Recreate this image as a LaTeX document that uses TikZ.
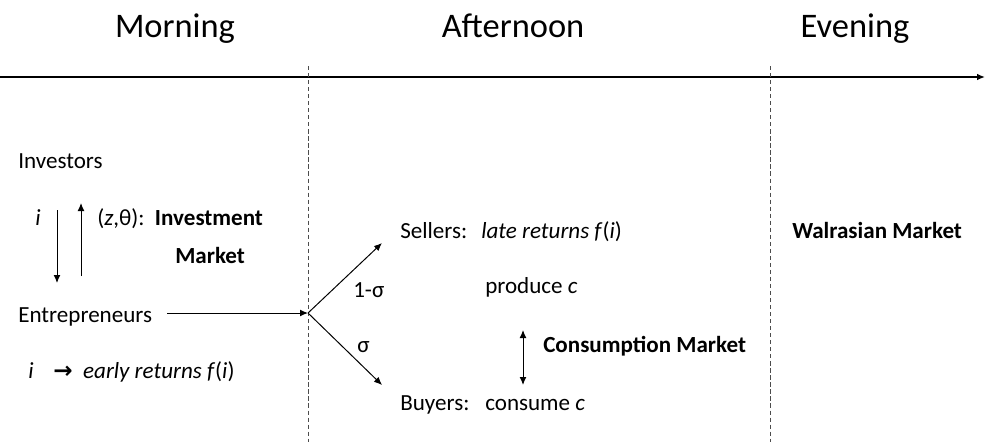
\documentclass[tikz,border=0pt]{standalone}
\usepackage{fontspec}
\setmainfont{Carlito}
\newfontfamily\arrowfont{DejaVu Sans}
\usetikzlibrary{arrows.meta}

\begin{document}
\begin{tikzpicture}[x=0.025cm,y=-0.025cm,>={Latex[length=2mm,width=1.7mm]},
	every node/.style={anchor=base west,inner sep=0pt,font=\fontsize{16.4}{20}\selectfont},
	title/.style={anchor=base,font=\fontsize{24.5}{30}\selectfont},
	phase/.style={dashed,dash pattern=on 3pt off 2pt,line width=0.6pt,black!70},
	flow/.style={line width=0.7pt,->}]
		\useasboundingbox (0,0) rectangle (985,442);
		\node[title] (morning) at (175,37) {Morning};
		\node[title] (afternoon) at (513,37) {Afternoon};
		\node[title] (evening) at (855,37) {Evening};
		\coordinate (tstart) at (0,77);
		\coordinate (tend) at (985,77);
		\draw[line width=1.1pt,->] (tstart) -- (tend);
		\draw[phase] (308,66) -- (308,442);
		\draw[phase] (770,66) -- (770,442);
		\node (investors) at (18,168) {Investors};
		\node (ilabel) at (35,225) {\textit{i}};
		\node (zlabel) at (97,225) {(\textit{z},θ):\ \ \textbf{Investment}};
		\node (invmarket) at (175,263) {\textbf{Market}};
		\coordinate (downtop) at (57,210);
		\coordinate (downbot) at (57,283);
		\coordinate (upbot) at (81,276);
		\coordinate (uptop) at (81,203);
		\draw[flow] (downtop) -- (downbot);
		\draw[flow] (upbot) -- (uptop);
		\node (entre) at (18,322) {Entrepreneurs};
		\coordinate (split) at (308,313);
		\draw[flow] (entre.base east) ++(15,-9) -- (split);
		\node (early) at (28,378) {\textit{i}\hspace{14pt}{\arrowfont\bfseries →}\hspace{7.5pt}\textit{early returns f}(\textit{i})};
		\coordinate (tosell) at (382,243);
		\coordinate (tobuy) at (382,385);
		\draw[flow] (split) -- (tosell);
		\draw[flow] (split) -- (tobuy);
		\node (onesig) at (353,297) {1-σ};
		\node (sig) at (357,352) {σ};
		\node (sellers) at (400,238) {Sellers:};
		\node (late) at (481,238) {\textit{late returns f}(\textit{i})};
		\node (produce) at (485,293) {produce \textit{c}};
		\coordinate (ctop) at (523,330);
		\coordinate (cbot) at (523,385);
		\draw[flow,<->] (ctop) -- (cbot);
		\node (cmarket) at (543,352) {\textbf{Consumption Market}};
		\node (buyers) at (400,410) {Buyers:};
		\node (consume) at (485,410) {consume \textit{c}};
		\node (walras) at (792,238) {\textbf{Walrasian Market}};
\end{tikzpicture}
\end{document}
